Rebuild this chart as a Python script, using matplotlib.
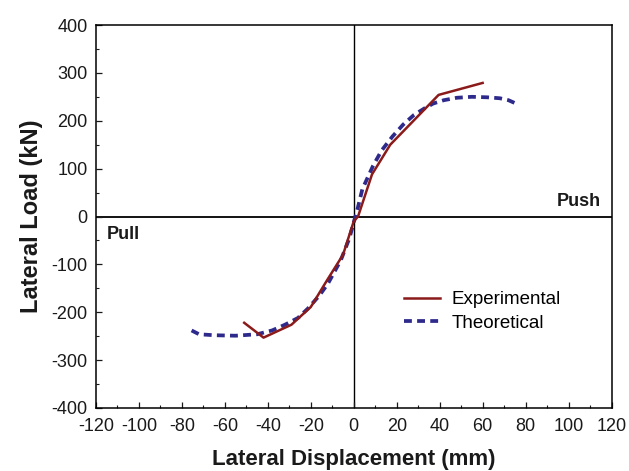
import matplotlib
matplotlib.use("Agg")
import matplotlib.pyplot as plt
from matplotlib.ticker import MultipleLocator

plt.rcParams['font.family'] = ['Liberation Sans', 'DejaVu Sans']
plt.rcParams['axes.unicode_minus'] = False

exp_x = [-51, -42, -29, -20, -12, -5, 0, 2, 8.5, 17, 39.5, 60]
exp_y = [-222, -253, -226, -189, -130, -80, -10, 0, 88, 150, 254, 279]

th_x = [-75.5, -72, -65, -55, -45, -38, -32, -26, -21.5, -16, -12, -6, -2, 0, 2, 4, 9, 13, 18, 23, 28, 33, 37, 42, 48, 55, 62, 68, 72, 75.5]
th_y = [-238, -246, -248, -249, -246, -238, -226, -212, -193, -165, -140, -91, -45, -12, 20, 57, 106, 138, 167, 192, 212, 226, 236, 243, 248, 250, 249, 247, 243, 236]

xticks = list(range(-120, 121, 20))
yticks = list(range(-400, 401, 100))

fig = plt.figure(figsize=(6.29, 4.71), dpi=100)
ax = fig.add_axes([96/629, 1-408/471, (611.5-96)/629, (408-25)/471])

ax.axhline(0, color='black', lw=1.3, zorder=1)
ax.axvline(0, color='black', lw=1.0, zorder=1)

ax.plot(exp_x, exp_y, color='#8B1A1A', lw=1.8, label='Experimental', zorder=3)
ax.plot(th_x, th_y, color='#2E2A8C', lw=2.7, ls=(0, (2.1, 1.4)), label='Theoretical', zorder=2)

ax.set_xlim(-120, 120)
ax.set_ylim(-400, 400)
ax.set_xticks(xticks)
ax.set_yticks(yticks)
ax.xaxis.set_minor_locator(MultipleLocator(10))
ax.yaxis.set_minor_locator(MultipleLocator(50))
ax.tick_params(which='both', direction='in', labelsize=13, colors='#1a1a1a')
ax.tick_params(which='major', length=4, width=0.9)
ax.tick_params(which='minor', length=2.5, width=0.8)
ax.tick_params(axis='x', which='major', pad=7)
ax.tick_params(axis='y', which='major', pad=6)
for s in ax.spines.values():
    s.set_linewidth(1.1)

ax.set_xlabel('Lateral Displacement (mm)', fontsize=16, fontweight='bold', labelpad=10, color='#1a1a1a')
ax.set_ylabel('Lateral Load (kN)', fontsize=17, fontweight='bold', labelpad=6, color='#1a1a1a')

ax.text(115, 21, 'Push', fontsize=13, fontweight='bold', ha='right', va='baseline', color='#1a1a1a')
ax.text(-115, -38, 'Pull', fontsize=13, fontweight='bold', ha='left', va='center', color='#1a1a1a')

ax.legend(loc='upper left', bbox_to_anchor=(0.598, 0.305), frameon=False, fontsize=13.5,
          handlelength=1.9, handletextpad=0.6, labelspacing=0.35, borderaxespad=0, borderpad=0)

fig.savefig('out.png', dpi=100)
